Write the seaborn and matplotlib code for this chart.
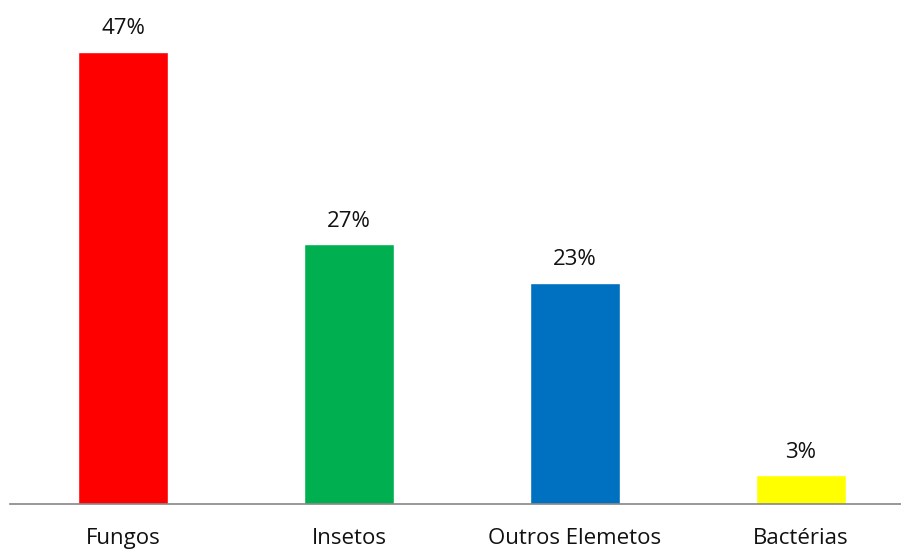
import matplotlib
matplotlib.use("Agg")
import matplotlib.pyplot as plt
import seaborn as sns
import pandas as pd

categories = ["Fungos", "Insetos", "Outros Elemetos", "Bactérias"]
values = [47, 27, 23, 3]
labels = ["47%", "27%", "23%", "3%"]
colors = ["#FF0000", "#00B050", "#0070C0", "#FFFF00"]

sns.set_style("white")
plt.rcParams['font.family'] = ['Open Sans', 'DejaVu Sans']

df = pd.DataFrame({"cat": categories, "val": values})

fig = plt.figure(figsize=(9.01, 5.5), dpi=100)
ax = fig.add_axes([10/901, 46/550, 891/901, 504/550])
sns.barplot(data=df, x="cat", y="val", hue="cat", palette=colors,
            width=90/226, legend=False, ax=ax, saturation=1)

ax.set_xlim(-0.5, -0.5 + 891/226)
ax.set_ylim(0, 504/9.62)
for i, (v, lab) in enumerate(zip(values, labels)):
    ax.annotate(lab, (i, v), xytext=(0, 9), textcoords="offset points",
                ha="center", va="bottom", fontsize=16, color="#111111")

for s in ["top", "right", "left"]:
    ax.spines[s].set_visible(False)
ax.spines["bottom"].set_color("#868686")
ax.spines["bottom"].set_linewidth(1.2)
ax.set_yticks([])
ax.set_xlabel("")
ax.set_ylabel("")
ax.tick_params(axis="x", length=0, pad=17, labelsize=16, labelcolor="#111111")

fig.savefig("out.png", dpi=100)
